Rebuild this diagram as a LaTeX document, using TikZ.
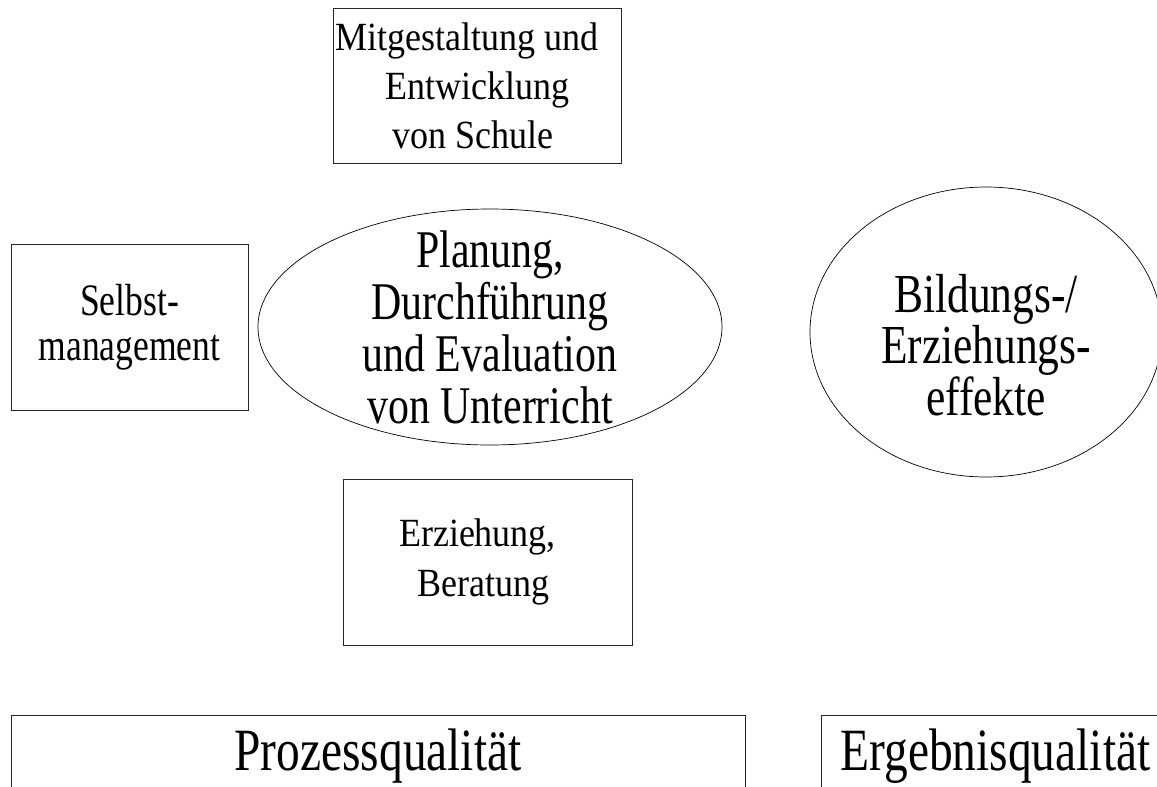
\documentclass[tikz,border=0pt]{standalone}
\usepackage{fontspec}
\setmainfont{Liberation Serif}
\newfontfamily\schmal[FakeStretch=0.9]{Liberation Serif}
\newfontfamily\enger[FakeStretch=0.79]{Liberation Serif}
\newfontfamily\mittel[FakeStretch=0.79]{Liberation Serif}
\newfontfamily\breit[FakeStretch=0.79]{Liberation Serif}
\usetikzlibrary{shapes.geometric}

\begin{document}
\begin{tikzpicture}[x=1pt,y=-1pt,
	kasten/.style={draw=black!85,line width=0.8pt,rectangle,inner sep=0pt,align=center},
	oval/.style={draw,line width=0.7pt,ellipse,inner xsep=0pt,inner ysep=-25pt,align=center}]
	\clip (0,0) rectangle (1157,787); % page size of the reference

		% boxes round the ellipse
		\node[kasten,minimum width=288pt,minimum height=155pt,font=\schmal\fontsize{40}{49}\selectfont] (schule) at (477,85.5) {Mitgestaltung und\hspace*{20pt}\\Entwicklung\hspace*{16pt}\\von Schule\hspace*{8pt}};
		\node[kasten,minimum width=237pt,minimum height=166pt,font=\enger\fontsize{45}{45}\selectfont] (selbst) at (129.5,327) {Selbst-\\management};
		\node[kasten,minimum width=289pt,minimum height=166pt,font=\schmal\fontsize{40}{50}\selectfont] (beratung) at (487.5,562) {Erziehung,\hspace*{20pt}\\Beratung\hspace*{8pt}};

		\node[oval,minimum width=464pt,minimum height=236pt,font=\mittel\fontsize{53}{52}\selectfont] (unterricht) at (490,327) {Planung,\\Durchführung\\und Evaluation\\von Unterricht};
		\node[oval,minimum width=352pt,minimum height=290pt,font=\mittel\fontsize{55}{45}\selectfont] (effekte) at (986,332) {\rule{0pt}{64pt}Bildungs-/\\Erziehungs-\\effekte};

		% the two bars run off the bottom edge
		\node[kasten,anchor=base,minimum width=734pt,text height=55pt,text depth=60pt,font=\breit\fontsize{60}{60}\selectfont] (prozess) at (378,770) {Prozessqualität};
		\node[kasten,anchor=base,minimum width=349pt,text height=55pt,text depth=60pt,font=\breit\fontsize{60}{60}\selectfont] (ergebnis) at (995.5,770) {Ergebnisqualität};
\end{tikzpicture}
\end{document}
